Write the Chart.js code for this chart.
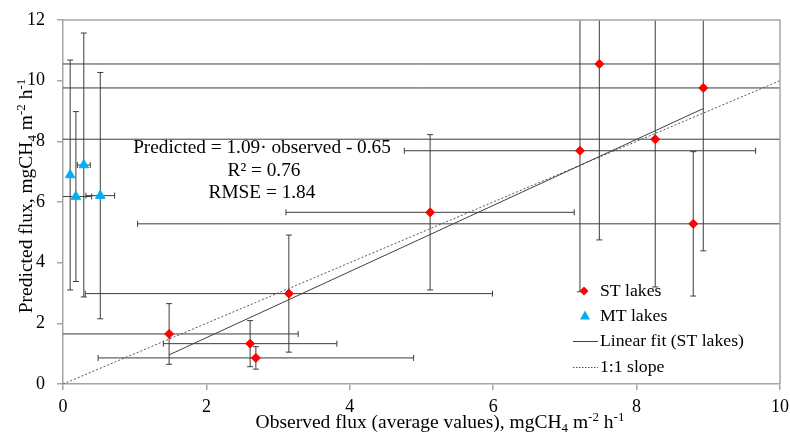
<!DOCTYPE html>
<html>
<head>
<meta charset="utf-8">
<script src="https://cdn.jsdelivr.net/npm/chart.js@4/dist/chart.umd.min.js"></script>
<style>
  html, body { margin: 0; padding: 0; background: #ffffff; }
  #wrap { width: 790px; height: 435px; }
</style>
</head>
<body>
<div id="wrap"><canvas id="c" width="790" height="435"></canvas></div>
<script>
// ---- data ----
const stX    = [1.48, 2.61, 2.69, 3.15, 5.12, 7.21, 7.48, 8.26, 8.79, 8.93];
const stY    = [1.65, 1.33, 0.86, 2.98, 5.66, 7.69, 10.55, 8.07, 5.28, 9.76];
const stXErr = [1.80, 1.21, 2.20, 2.84, 2.01, 2.45, 8.00, 8.50, 7.75, 9.00];
const stYErr = [1.00, 0.76, 0.37, 1.93, 2.56, 4.65, 5.80, 4.87, 2.38, 5.37];

const mtX    = [0.10, 0.18, 0.29, 0.52];
const mtY    = [6.89, 6.18, 7.22, 6.21];
const mtXErr = [0.00, 0.22, 0.09, 0.20];
const mtYErr = [3.79, 2.80, 4.35, 4.06];

const fitX = [1.48, 8.93];
const fitY = [0.96, 9.08];
const oneX = [0, 10];
const oneY = [0, 10];

const xTicks = [0, 2, 4, 6, 8, 10];
const yTicks = [0, 2, 4, 6, 8, 10, 12];

const legendLabels = ['ST lakes', 'MT lakes', 'Linear fit (ST lakes)', '1:1 slope'];
const annotationLines = ['Predicted = 1.09\u00b7 observed - 0.65', 'R\u00b2 = 0.76', 'RMSE = 1.84'];

// ---- styles ----
const FONT = "'Liberation Serif', 'Times New Roman', serif";
const RED = '#FF0000';
const BLUE = '#00B0F0';
const AXIS = '#A6A6A6';
const ERR = '#3c3c3c';

const pts = (xs, ys) => xs.map((x, i) => ({ x: x, y: ys[i] }));

function drawRich(ctx, parts, x, y) {
  let total = 0;
  parts.forEach(p => { ctx.font = p.size + 'px ' + FONT; p.w = ctx.measureText(p.t).width; total += p.w; });
  let cx = x - total / 2;
  ctx.textAlign = 'left';
  ctx.textBaseline = 'alphabetic';
  parts.forEach(p => {
    ctx.font = p.size + 'px ' + FONT;
    ctx.fillText(p.t, cx, y + (p.dy || 0));
    cx += p.w;
  });
}

const errorBars = {
  id: 'errorBars',
  beforeDatasetsDraw(chart) {
    const { ctx, chartArea: a, scales: { x, y } } = chart;
    ctx.save();
    ctx.beginPath();
    ctx.rect(a.left, a.top, a.right - a.left, a.bottom - a.top);
    ctx.clip();
    ctx.strokeStyle = ERR;
    ctx.lineWidth = 1;
    const cap = 3;
    function bars(xs, ys, xe, ye) {
      xs.forEach((vx, i) => {
        const px = x.getPixelForValue(vx), py = y.getPixelForValue(ys[i]);
        if (ye[i] > 0) {
          const t = y.getPixelForValue(ys[i] + ye[i]), b = y.getPixelForValue(ys[i] - ye[i]);
          ctx.beginPath();
          ctx.moveTo(px, t); ctx.lineTo(px, b);
          ctx.moveTo(px - cap, t); ctx.lineTo(px + cap, t);
          ctx.moveTo(px - cap, b); ctx.lineTo(px + cap, b);
          ctx.stroke();
        }
        if (xe[i] > 0) {
          const l = x.getPixelForValue(vx - xe[i]), r = x.getPixelForValue(vx + xe[i]);
          ctx.beginPath();
          ctx.moveTo(l, py); ctx.lineTo(r, py);
          ctx.moveTo(l, py - cap); ctx.lineTo(l, py + cap);
          ctx.moveTo(r, py - cap); ctx.lineTo(r, py + cap);
          ctx.stroke();
        }
      });
    }
    bars(stX, stY, stXErr, stYErr);
    bars(mtX, mtY, mtXErr, mtYErr);
    ctx.restore();
  }
};

const decorations = {
  id: 'decorations',
  beforeDraw(chart) {
    const { ctx } = chart;
    ctx.save();
    ctx.fillStyle = '#ffffff';
    ctx.fillRect(0, 0, chart.width, chart.height);
    ctx.restore();
  },
  afterDraw(chart) {
    const { ctx, chartArea: a } = chart;
    ctx.save();
    ctx.strokeStyle = AXIS;
    ctx.lineWidth = 1.5;
    ctx.beginPath();
    ctx.moveTo(a.left, a.top); ctx.lineTo(a.right, a.top); ctx.lineTo(a.right, a.bottom);
    ctx.stroke();

    ctx.fillStyle = '#000000';
    drawRich(ctx, [
      { t: 'Observed flux (average values), mgCH', size: 19.5 },
      { t: '4', size: 13, dy: 4 },
      { t: ' m', size: 19.5 },
      { t: '-2', size: 13, dy: -7 },
      { t: ' h', size: 19.5 },
      { t: '-1', size: 13, dy: -7 }
    ], 440, 428);
    ctx.save();
    ctx.translate(32, 196);
    ctx.rotate(-Math.PI / 2);
    drawRich(ctx, [
      { t: 'Predicted flux, mgCH', size: 19.5 },
      { t: '4', size: 13, dy: 4 },
      { t: ' m', size: 19.5 },
      { t: '-2', size: 13, dy: -7 },
      { t: ' h', size: 19.5 },
      { t: '-1', size: 13, dy: -7 }
    ], 0, 0);
    ctx.restore();

    ctx.font = '19.3px ' + FONT;
    ctx.textAlign = 'center';
    ctx.textBaseline = 'middle';
    ctx.fillText(annotationLines[0], 262, 148);
    ctx.fillText(annotationLines[1], 264, 171);
    ctx.fillText(annotationLines[2], 262, 193);

    const lx = 600;
    const ly = [291, 316, 341, 367];
    ctx.textAlign = 'left';
    ctx.font = '17.7px ' + FONT;
    ctx.fillStyle = RED;
    ctx.beginPath();
    ctx.moveTo(584, ly[0] - 4.5); ctx.lineTo(588.5, ly[0]); ctx.lineTo(584, ly[0] + 4.5); ctx.lineTo(579.5, ly[0]);
    ctx.closePath(); ctx.fill();
    ctx.fillStyle = BLUE;
    ctx.beginPath();
    ctx.moveTo(585, ly[1] - 5.5); ctx.lineTo(590, ly[1] + 3.5); ctx.lineTo(580, ly[1] + 3.5);
    ctx.closePath(); ctx.fill();
    ctx.strokeStyle = '#404040';
    ctx.lineWidth = 1;
    ctx.beginPath(); ctx.moveTo(573, ly[2] + 0.5); ctx.lineTo(598, ly[2] + 0.5); ctx.stroke();
    ctx.setLineDash([1.5, 1.5]);
    ctx.strokeStyle = '#555555';
    ctx.beginPath(); ctx.moveTo(573, ly[3] + 0.5); ctx.lineTo(598, ly[3] + 0.5); ctx.stroke();
    ctx.setLineDash([]);
    ctx.fillStyle = '#000000';
    legendLabels.forEach((t, i) => ctx.fillText(t, lx, ly[i]));
    ctx.restore();
  }
};

new Chart(document.getElementById('c'), {
  type: 'scatter',
  data: {
    datasets: [
      { label: legendLabels[3], type: 'line', data: pts(oneX, oneY), borderColor: '#555555', borderWidth: 1,
        borderDash: [2, 2], pointRadius: 0, fill: false, order: 4 },
      { label: legendLabels[2], type: 'line', data: pts(fitX, fitY), borderColor: '#404040', borderWidth: 1,
        pointRadius: 0, fill: false, order: 3 },
      { label: legendLabels[1], data: pts(mtX, mtY), pointStyle: 'triangle', pointRadius: 5.5,
        backgroundColor: BLUE, borderColor: BLUE, borderWidth: 1, order: 2 },
      { label: legendLabels[0], data: pts(stX, stY), pointStyle: 'rectRot', pointRadius: 4.5,
        backgroundColor: RED, borderColor: RED, borderWidth: 1, order: 1 }
    ]
  },
  options: {
    responsive: false,
    animation: false,
    layout: { padding: { top: 20, right: 10, left: 0, bottom: 0 } },
    plugins: { legend: { display: false }, tooltip: { enabled: false } },
    scales: {
      x: {
        type: 'linear', min: 0, max: 10,
        afterFit(s) { s.height = 51; s.paddingRight = 0; s.paddingLeft = 0; },
        afterBuildTicks(s) { s.ticks = xTicks.map(v => ({ value: v })); },
        grid: { drawOnChartArea: false, drawTicks: true, tickLength: 6, color: AXIS, lineWidth: 1.5 },
        border: { display: true, color: AXIS, width: 1.5 },
        ticks: { color: '#000000', padding: 6, maxRotation: 0, font: { family: FONT, size: 18 } }
      },
      y: {
        type: 'linear', min: 0, max: 12,
        afterFit(s) { s.width = 63; s.paddingTop = 0; s.paddingBottom = 0; },
        afterBuildTicks(s) { s.ticks = yTicks.map(v => ({ value: v })); },
        grid: { drawOnChartArea: false, drawTicks: true, tickLength: 6, color: AXIS, lineWidth: 1.5 },
        border: { display: true, color: AXIS, width: 1.5 },
        ticks: { color: '#000000', padding: 12, font: { family: FONT, size: 18 } }
      }
    }
  },
  plugins: [decorations, errorBars]
});
</script>
</body>
</html>
